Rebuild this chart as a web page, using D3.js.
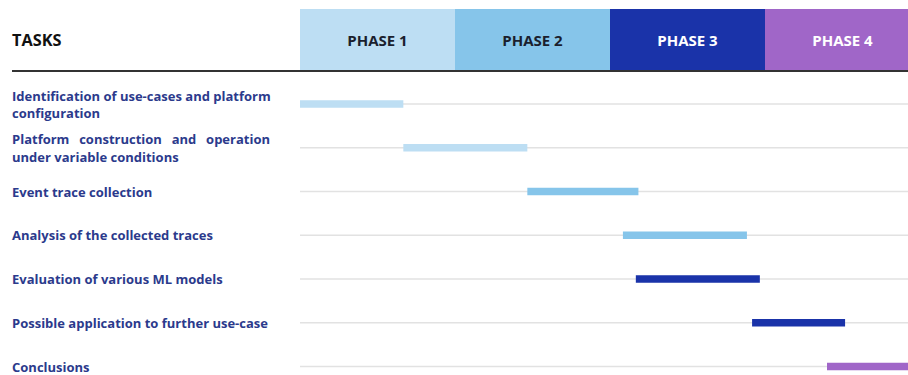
<!DOCTYPE html>
<html>
<head>
<meta charset="utf-8">
<script src="https://cdn.jsdelivr.net/npm/d3@7"></script>
<style>
  html, body { margin: 0; padding: 0; background: #fff; }
  svg { display: block; }
  text { font-family: "Open Sans", Lato, sans-serif; font-weight: 700; }
</style>
</head>
<body>
<svg id="chart" width="908" height="375"></svg>
<script>
// ---- data ----
const phases = ["PHASE 1", "PHASE 2", "PHASE 3", "PHASE 4"];
const phaseColors = ["#BDDEF3", "#86C5EA", "#1A33A9", "#A066C8"];
const phaseTextColors = ["#1b1f2e", "#1b1f2e", "#ffffff", "#ffffff"];
const phaseMonths = [0, 6, 12, 18]; // phase start (months)
const phaseLength = 6;
const tasks = [
  "Identification of use-cases and platform configuration",
  "Platform construction and operation under variable conditions",
  "Event trace collection",
  "Analysis of the collected traces",
  "Evaluation of various ML models",
  "Possible application to further use-case",
  "Conclusions"
];
const taskLines = [
  ["Identification of use-cases and platform", "configuration"],
  ["Platform construction and operation", "under variable conditions"],
  ["Event trace collection"],
  ["Analysis of the collected traces"],
  ["Evaluation of various ML models"],
  ["Possible application to further use-case"],
  ["Conclusions"]
];
const taskJustify = [[false, false], [true, false], [false], [false], [false], [false], [false]];
const taskStart = [0, 4, 8.8, 12.5, 13, 17.5, 20.4];
const taskEnd = [4, 8.8, 13.1, 17.3, 17.8, 21.1, 24];
const taskPhase = [0, 0, 1, 1, 2, 2, 3];

// ---- layout ----
const svg = d3.select("#chart");
const W = 908;
const x = d3.scaleLinear().domain([0, 24]).range([300, 920]);
const y = d3.scalePoint().domain(tasks).range([104, 366.5]);
const headerTop = 9, headerBottom = 71;
const labelLeft = 12, labelRight = 270;
const labelColor = "#2B3A8C";

// header phase blocks
const hdr = svg.append("g");
hdr.selectAll("rect").data(phases).join("rect")
  .attr("x", (d, i) => x(phaseMonths[i]))
  .attr("y", headerTop)
  .attr("width", (d, i) => x(phaseMonths[i] + phaseLength) - x(phaseMonths[i]))
  .attr("height", headerBottom - headerTop)
  .attr("fill", (d, i) => phaseColors[i]);
hdr.selectAll("text").data(phases).join("text")
  .attr("x", (d, i) => (x(phaseMonths[i]) + x(phaseMonths[i] + phaseLength)) / 2)
  .attr("y", 45.5)
  .attr("text-anchor", "middle")
  .attr("font-size", 15)
  .attr("fill", (d, i) => phaseTextColors[i])
  .text(d => d);

svg.append("text")
  .attr("x", labelLeft).attr("y", 45.5)
  .attr("font-size", 16.3)
  .attr("fill", "#111")
  .text("TASKS");

svg.append("line")
  .attr("x1", labelLeft).attr("x2", W)
  .attr("y1", 71).attr("y2", 71)
  .attr("stroke", "#333").attr("stroke-width", 2);

// gridlines
svg.append("g").selectAll("line").data(tasks).join("line")
  .attr("x1", x(0)).attr("x2", W)
  .attr("y1", d => y(d)).attr("y2", d => y(d))
  .attr("stroke", "#e2e2e2").attr("stroke-width", 1.5);

// bars
const barH = 7.5;
svg.append("g").selectAll("rect").data(tasks).join("rect")
  .attr("x", (d, i) => x(taskStart[i]))
  .attr("y", d => y(d) - barH / 2)
  .attr("width", (d, i) => x(taskEnd[i]) - x(taskStart[i]))
  .attr("height", barH)
  .attr("fill", (d, i) => phaseColors[taskPhase[i]]);

// task labels
const lbl = svg.append("g");
tasks.forEach((t, i) => {
  const lines = taskLines[i];
  const cy = y(t);
  const offsets = lines.length === 1 ? [5] : [-3.5, 14];
  lines.forEach((ln, j) => {
    const te = lbl.append("text")
      .attr("x", labelLeft).attr("y", cy + offsets[j])
      .attr("font-size", 13).attr("font-weight", 600).attr("fill", labelColor)
      .text(ln);
    if (taskJustify[i][j]) {
      const natural = te.node().getComputedTextLength();
      const spaces = (ln.match(/ /g) || []).length;
      if (spaces > 0) te.attr("word-spacing", (labelRight - labelLeft - natural) / spaces);
    }
  });
});
</script>
</body>
</html>
